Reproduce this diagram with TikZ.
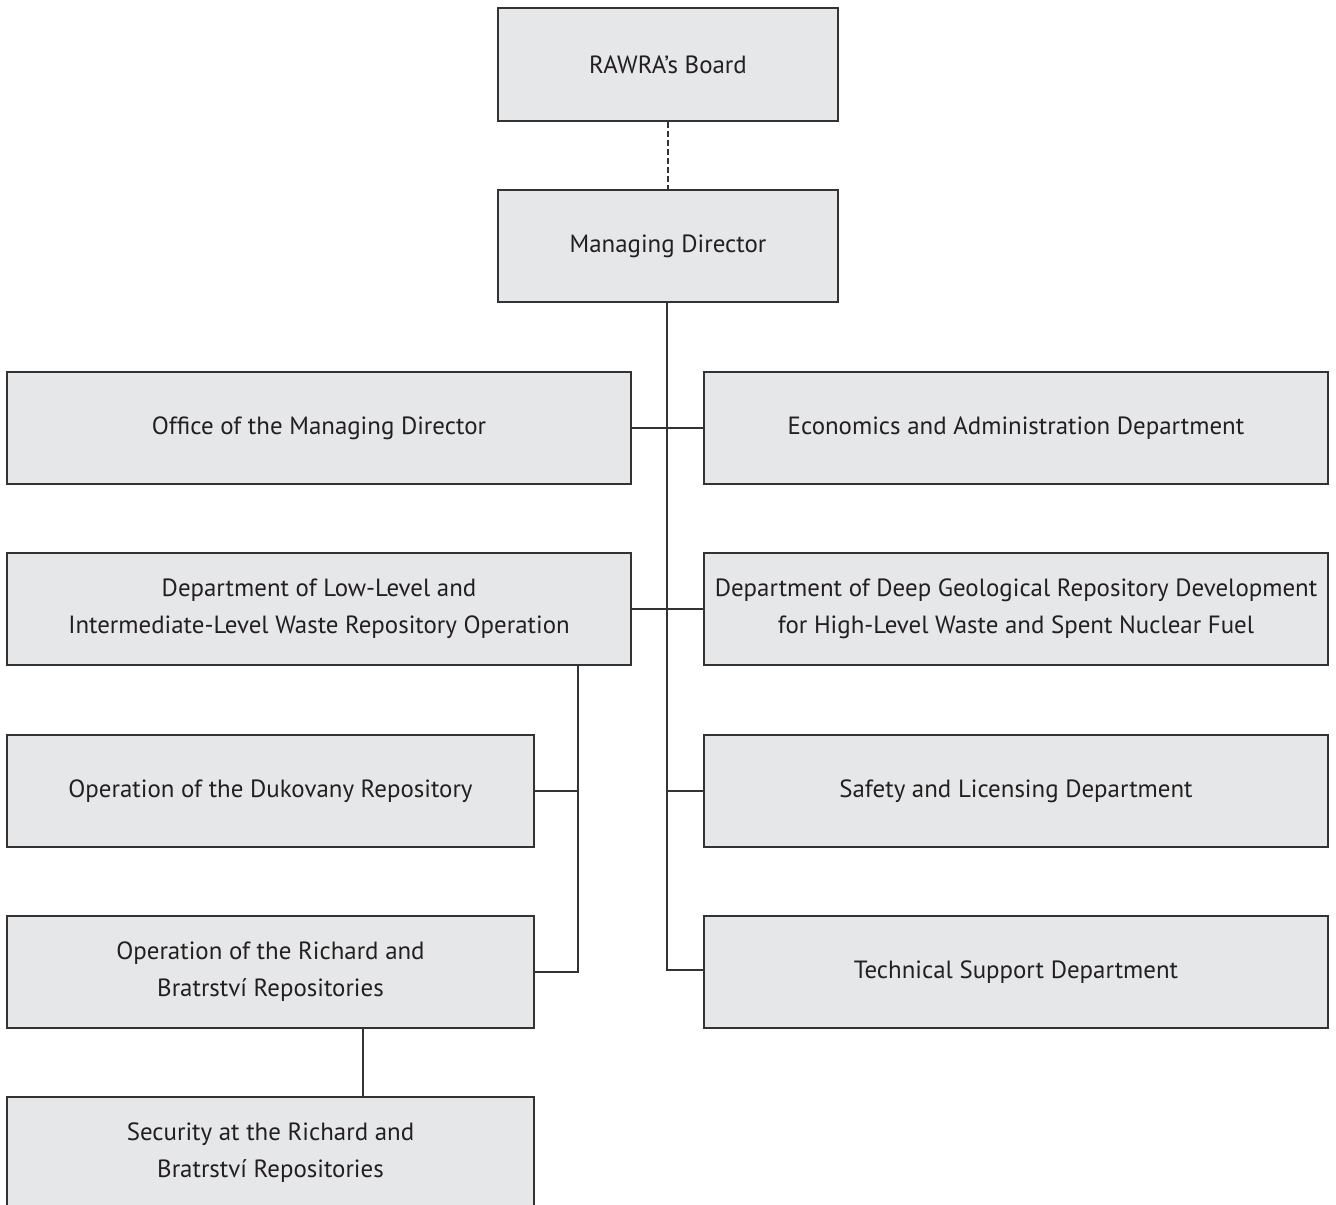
\documentclass[tikz,border=0pt]{standalone}
\usepackage{fontspec}
\setmainfont{PT Sans}
\definecolor{boxfill}{HTML}{E6E7E8}
\definecolor{linecol}{HTML}{333333}
\definecolor{txtcol}{HTML}{231F20}
\begin{document}
\begin{tikzpicture}[x=0.5pt,y=-0.5pt,
  orgbox/.style={draw=linecol,fill=boxfill,line width=0.6pt,text=txtcol,align=center,inner sep=0pt,
    font=\fontsize{12.45}{18.5}\selectfont},
  conn/.style={draw=linecol,line width=0.6pt}]
\useasboundingbox (0,0) rectangle (1336,1204);
\newcommand\orgnode[6]{\node[orgbox,minimum width=#4*0.5pt,minimum height=#5*0.5pt] (#1) at (#2,#3) {#6};}
\orgnode{board}{668}{64.5}{340}{113}{RAWRA’s Board}
\orgnode{md}{668}{246}{340}{112}{Managing Director}
\orgnode{office}{319}{428}{624}{112}{Office of the Managing Director}
\orgnode{econ}{1016}{428}{624}{112}{Economics and Administration Department}
\orgnode{llw}{319}{609}{624}{112}{Department of Low-Level and\\Intermediate-Level Waste Repository Operation}
\orgnode{deep}{1016}{609}{624}{112}{Department of Deep Geological Repository Development\\for High-Level Waste and Spent Nuclear Fuel}
\orgnode{duk}{270.5}{791}{527}{112}{Operation of the Dukovany Repository}
\orgnode{safety}{1016}{791}{624}{112}{Safety and Licensing Department}
\orgnode{rich}{270.5}{972}{527}{112}{Operation of the Richard and\\Bratrství Repositories}
\orgnode{tech}{1016}{972}{624}{112}{Technical Support Department}
\orgnode{sec}{270.5}{1153}{527}{112}{Security at the Richard and\\Bratrství Repositories}
% connectors
\draw[conn,dashed,dash pattern=on 3pt off 1.5pt] (board.south) -- (md.north);
\coordinate (trunkend) at (667,970);
\draw[conn] (md.south -| trunkend) -- (trunkend) -- (tech.west |- trunkend);
\draw[conn] (office.east) -- (econ.west);
\draw[conn] (llw.east) -- (deep.west);
\draw[conn] (safety.west) -- (safety.west -| trunkend);
\coordinate (subtrunk) at (578,972);
\draw[conn] (llw.south -| subtrunk) -- (subtrunk) -- (rich.east |- subtrunk);
\draw[conn] (duk.east) -- (duk.east -| subtrunk);
\draw[conn] (rich.south -| 363,0) -- (sec.north -| 363,0);
\end{tikzpicture}
\end{document}
